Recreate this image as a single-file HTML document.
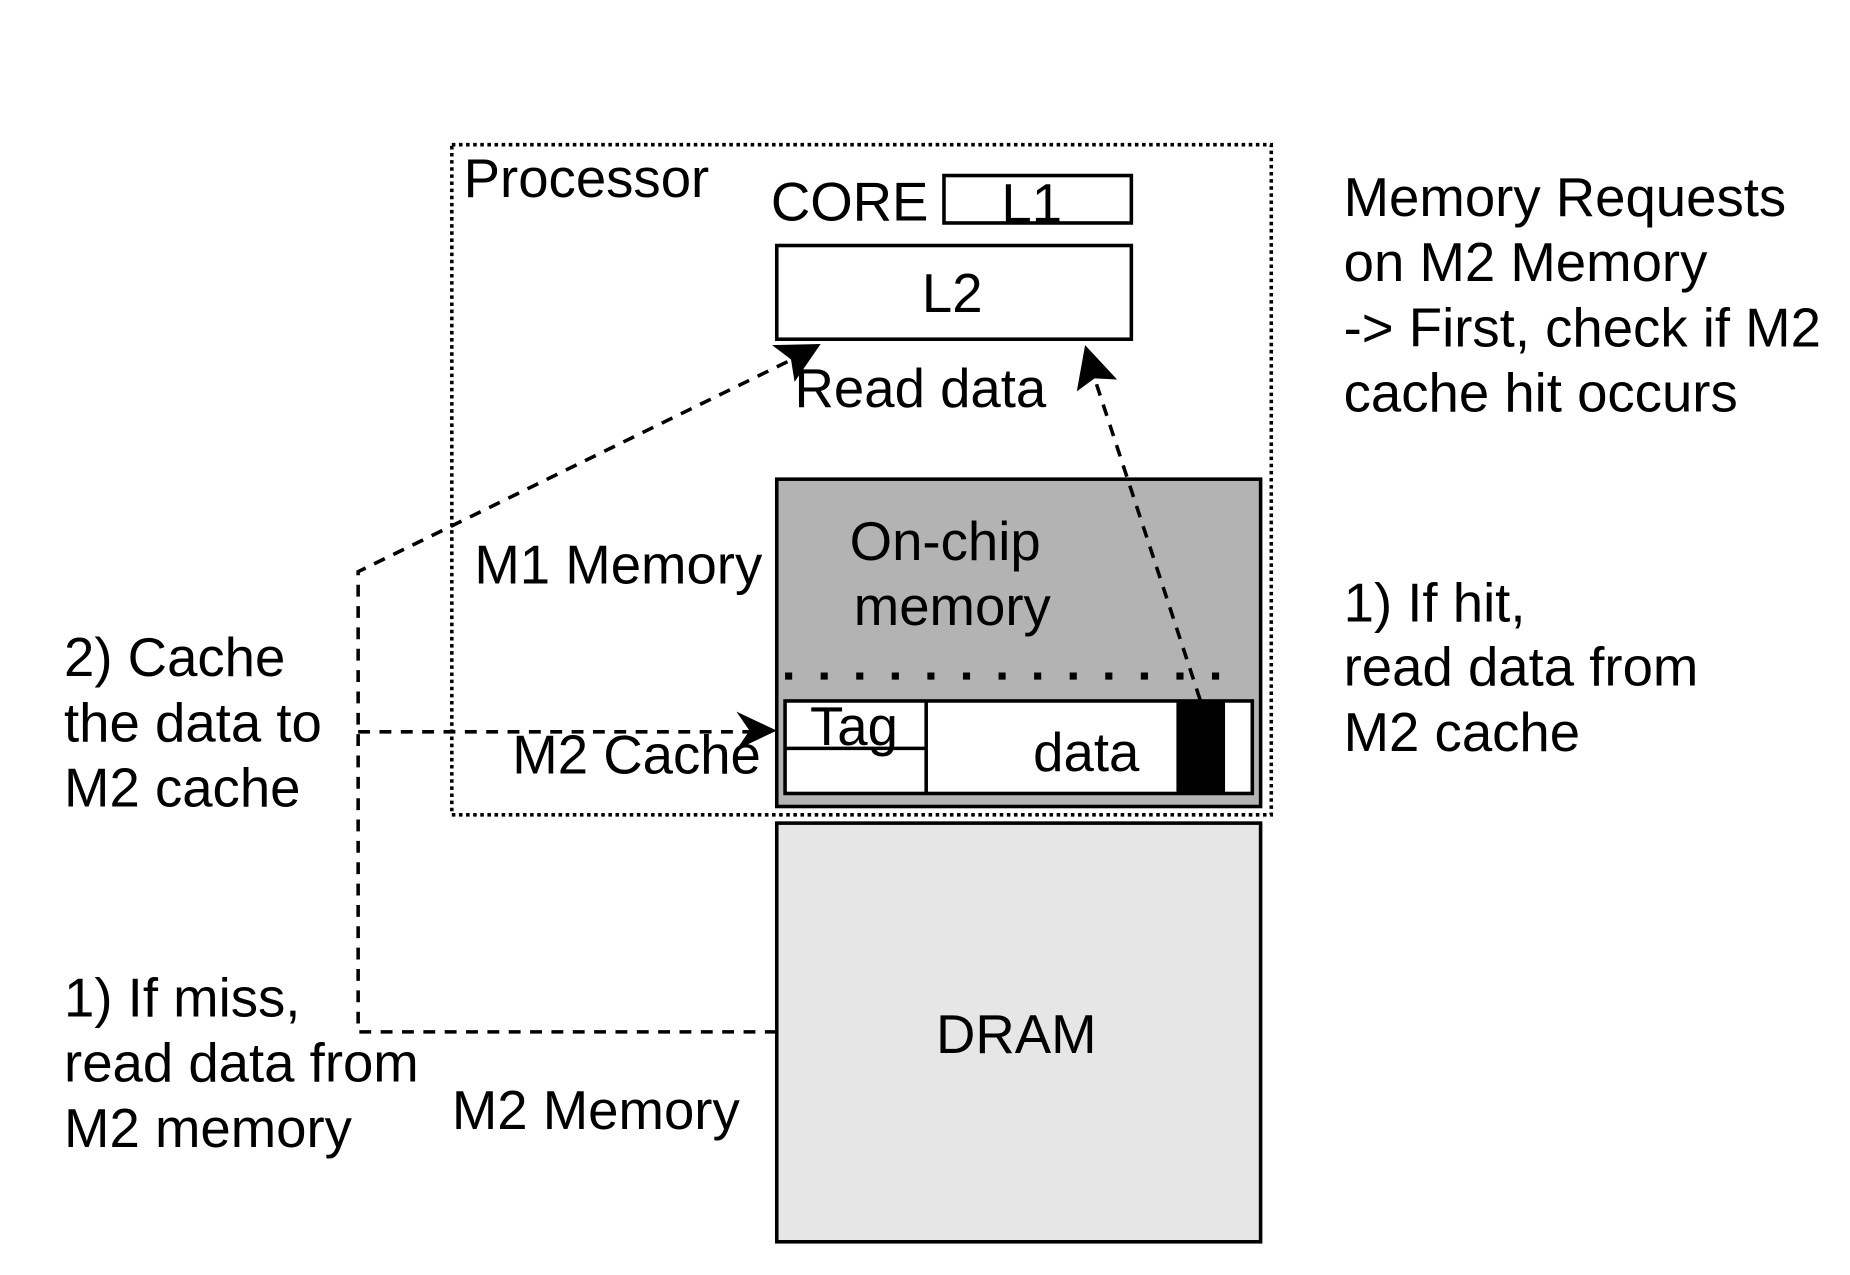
<!DOCTYPE html>
<html><head><style>
html,body{margin:0;padding:0;background:#fff;}
svg{display:block;}
text{font-family:"Liberation Sans",sans-serif;font-size:46px;fill:#000;}
</style></head><body>
<svg width="1850" height="1275" viewBox="0 0 1560 1075" preserveAspectRatio="none" xmlns="http://www.w3.org/2000/svg">
<rect x="0" y="0" width="1560" height="1075" fill="#fff"/>
<!-- Processor dotted box -->
<rect x="381" y="122" width="691" height="565" fill="none" stroke="#000" stroke-width="3" stroke-dasharray="3,3"/>
<text x="391" y="166">Processor</text>
<text x="650" y="186">CORE</text>
<rect x="796" y="148" width="158" height="40" fill="none" stroke="#000" stroke-width="3"/>
<text x="870" y="187" text-anchor="middle">L1</text>
<rect x="655" y="207" width="299" height="79" fill="#fff" stroke="#000" stroke-width="3"/>
<text x="803" y="263" text-anchor="middle">L2</text>
<text x="670" y="343">Read data</text>
<!-- On-chip -->
<rect x="655" y="404" width="408" height="276" fill="#b3b3b3" stroke="#000" stroke-width="3"/>
<text x="797" y="472" text-anchor="middle">On-chip</text>
<text x="803" y="527" text-anchor="middle">memory</text>
<line x1="662" y1="570" x2="1052" y2="570" stroke="#000" stroke-width="6" stroke-dasharray="6,24"/>
<rect x="662" y="591" width="394" height="78" fill="#fff" stroke="#000" stroke-width="3"/>
<line x1="781" y1="591" x2="781" y2="669" stroke="#000" stroke-width="3"/>
<line x1="662" y1="631" x2="781" y2="631" stroke="#000" stroke-width="3"/>
<rect x="992" y="591" width="41" height="78" fill="#000"/>
<text x="683" y="628">Tag</text>
<text x="916" y="650" text-anchor="middle">data</text>
<text x="432" y="652">M2 Cache</text>
<text x="400" y="492">M1 Memory</text>
<!-- DRAM -->
<rect x="655" y="694" width="408" height="353" fill="#e6e6e6" stroke="#000" stroke-width="3"/>
<text x="857" y="888" text-anchor="middle">DRAM</text>
<text x="381" y="952">M2 Memory</text>
<!-- connectors -->
<polyline points="655,870 302,870 302,482 668,303" fill="none" stroke="#000" stroke-width="3" stroke-dasharray="10,8"/>
<polygon points="692,290 651,291 667,303 670,322" fill="#000"/>
<line x1="302" y1="617" x2="632" y2="617" stroke="#000" stroke-width="3" stroke-dasharray="10,8"/>
<polygon points="655,616 621,600 632,616 621,632" fill="#000"/>
<line x1="1012" y1="590" x2="923" y2="319" stroke="#000" stroke-width="3" stroke-dasharray="10,8"/>
<polygon points="915,291 908,330 923,319 942,320" fill="#000"/>
<!-- left texts -->
<text x="54" y="570">2) Cache</text>
<text x="54" y="625">the data to</text>
<text x="54" y="680">M2 cache</text>
<text x="54" y="857">1) If miss,</text>
<text x="54" y="912">read data from</text>
<text x="54" y="967">M2 memory</text>
<!-- right texts -->
<text x="1133" y="182">Memory Requests</text>
<text x="1133" y="237">on M2 Memory</text>
<text x="1133" y="292">-&gt; First, check if M2</text>
<text x="1133" y="347">cache hit occurs</text>
<text x="1133" y="524">1) If hit,</text>
<text x="1133" y="578">read data from</text>
<text x="1133" y="633">M2 cache</text>
</svg>
</body></html>
